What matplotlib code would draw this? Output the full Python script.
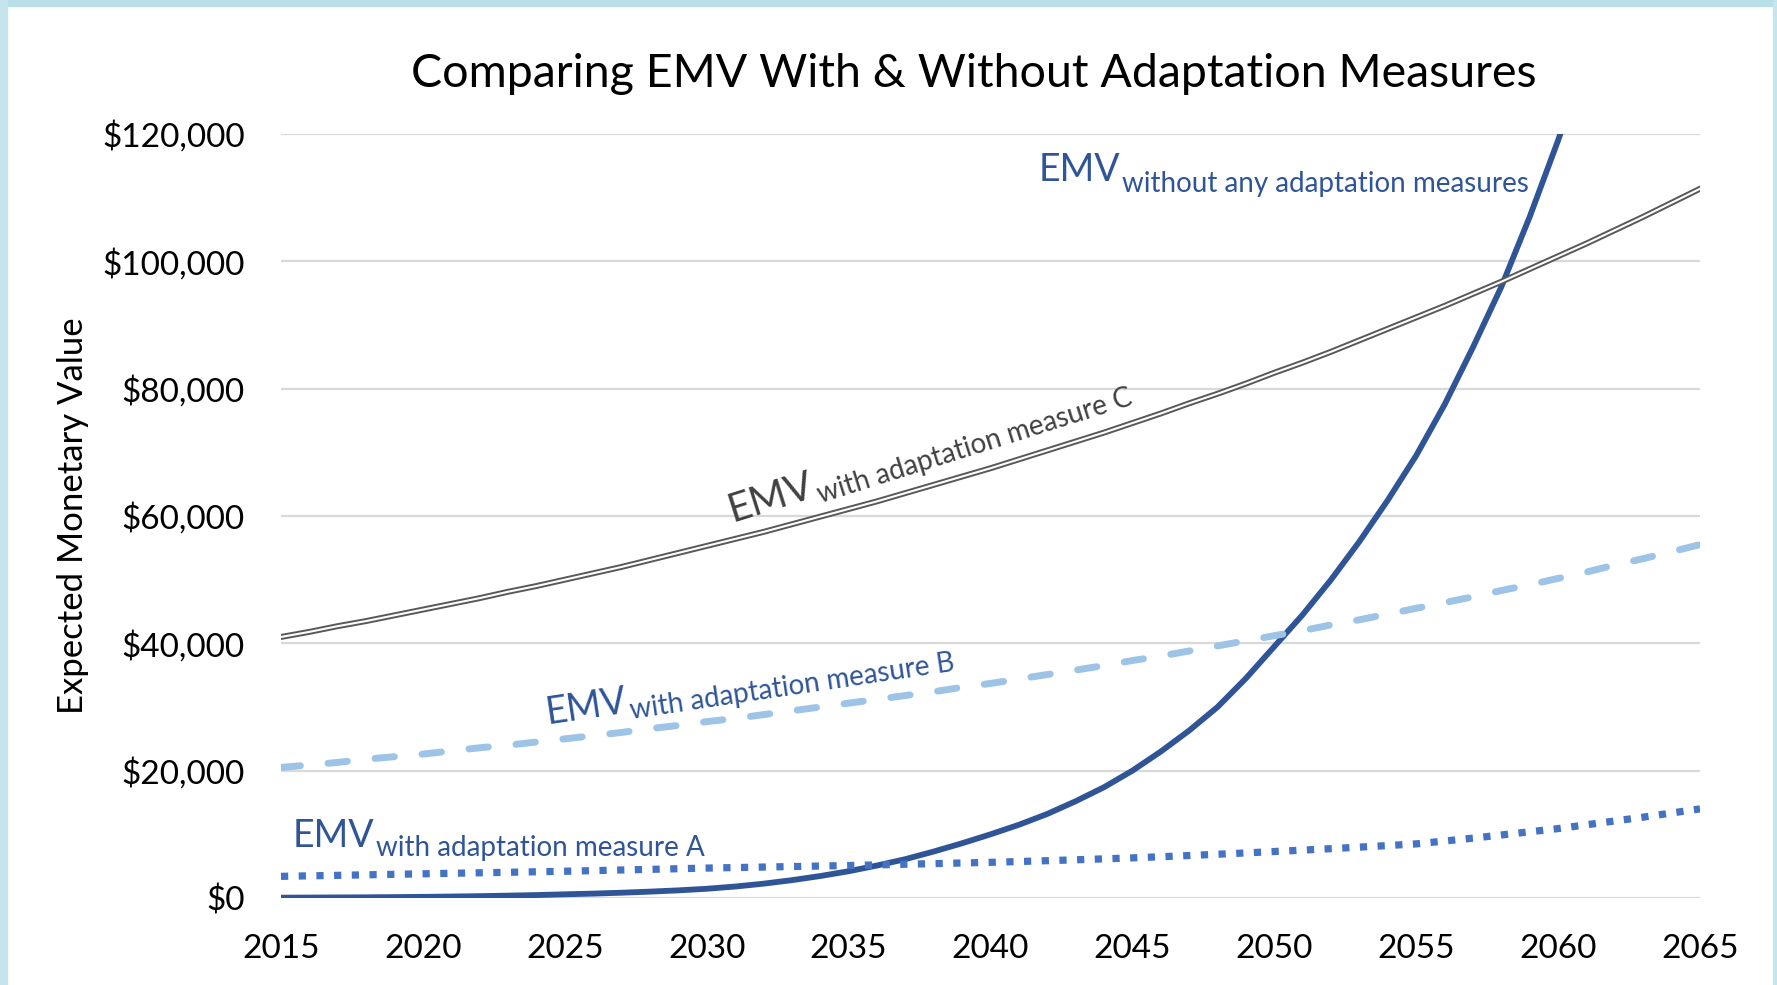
import numpy as np
import matplotlib
matplotlib.use("Agg")
import matplotlib.pyplot as plt
from matplotlib.ticker import FuncFormatter
from matplotlib.patches import Rectangle

plt.rcParams['font.family'] = ['Lato', 'DejaVu Sans']

years = list(range(2015, 2066))

# EMV without any adaptation measures (runs past the top)
emv_none = [50, 70, 90, 110, 140, 180, 230, 290, 370, 460,
            580, 690, 830, 1000, 1200, 1450, 1800, 2250, 2800, 3450,
            4200, 5100, 6100, 7300, 8600, 10000, 11500, 13200, 15200, 17400,
            20000, 23000, 26300, 30000, 34500, 39500, 44500, 50000, 56000, 62500,
            69500, 77500, 86500, 96000, 107000, 119000, 132000, 146000, 162000, 179000,
            198000]

emv_a = [3400, 3480, 3560, 3640, 3720, 3800, 3880, 3960, 4040, 4120,
         4200, 4300, 4400, 4500, 4600, 4700, 4780, 4860, 4940, 5020,
         5100, 5200, 5300, 5400, 5500, 5600, 5730, 5860, 6000, 6150,
         6300, 6480, 6670, 6870, 7080, 7300, 7520, 7750, 7990, 8240,
         8500, 8950, 9400, 9900, 10400, 10900, 11500, 12100, 12700, 13350,
         14000]

emv_b = [20500, 20900, 21300, 21800, 22200, 22600, 23100, 23600, 24000, 24500,
         25000, 25500, 26000, 26600, 27100, 27700, 28200, 28800, 29400, 30000,
         30600, 31200, 31800, 32400, 33100, 33700, 34400, 35100, 35800, 36500,
         37300, 38000, 38800, 39600, 40400, 41200, 42000, 42900, 43700, 44600,
         45500, 46400, 47300, 48300, 49200, 50200, 51200, 52300, 53300, 54400,
         55500]

emv_c = [41000, 41800, 42700, 43500, 44400, 45300, 46200, 47100, 48100, 49000,
         50000, 51000, 52000, 53100, 54200, 55300, 56400, 57500, 58700, 59900,
         61100, 62300, 63600, 64900, 66200, 67500, 68900, 70300, 71700, 73100,
         74600, 76100, 77700, 79200, 80800, 82500, 84100, 85800, 87600, 89400,
         91200, 93000, 94900, 96800, 98800, 100800, 102800, 104900, 107000, 109200,
         111400]

x_ticks = list(range(2015, 2066, 5))
y_ticks = list(range(0, 120001, 20000))

DARK = '#2F5597'
MID = '#4472C4'
LIGHT = '#9DC3E6'
GREY = '#595959'

DPI = 100
fig = plt.figure(figsize=(17.77, 9.85), dpi=DPI)
fig.patch.set_facecolor('white')

# light blue frame like the slide background
fig.patches.append(Rectangle((0, 1 - 6 / 985), 1, 6 / 985, transform=fig.transFigure,
                             color='#B8DEE7', zorder=0))
fig.patches.append(Rectangle((0, 0), 7 / 1777, 1, transform=fig.transFigure,
                             color='#C6E4EC', zorder=0))
fig.patches.append(Rectangle((1 - 4 / 1777, 0), 4 / 1777, 1, transform=fig.transFigure,
                             color='#C6E4EC', zorder=0))

ax = fig.add_axes([281 / 1777, 87 / 985, 1419 / 1777, 764 / 985])

ax.plot(years, emv_none, color=DARK, lw=4.2, solid_capstyle='butt', zorder=3)
ax.plot(years, emv_a, color=MID, lw=5.2, linestyle=(0, (1.0, 1.45)),
        dash_capstyle='butt', zorder=4)
ax.plot(years, emv_b, color=LIGHT, lw=5.0, linestyle=(0, (2.8, 4.0)),
        dash_capstyle='round', zorder=5)
ax.plot(years, emv_c, color=GREY, lw=4.3, zorder=6)
ax.plot(years, emv_c, color='white', lw=1.5, zorder=7)

ax.set_xlim(2015, 2065)
ax.set_ylim(0, 120000)
ax.set_xticks(x_ticks)
ax.set_yticks(y_ticks)
ax.yaxis.set_major_formatter(FuncFormatter(lambda v, p: '${:,.0f}'.format(v)))
ax.tick_params(length=0, labelsize=24, colors='black')
ax.tick_params(axis='y', pad=26)
ax.tick_params(axis='x', pad=26)
ax.grid(axis='y', color='#D9D9D9', lw=1.6)
ax.set_axisbelow(True)
for s in ax.spines.values():
    s.set_visible(False)

ax.set_ylabel('Expected Monetary Value', fontsize=25, labelpad=18)
ax.yaxis.set_label_coords(-192 / 1419, 0.5)

fig.text(974 / 1777, 1 - 74 / 985, 'Comparing EMV With & Without Adaptation Measures',
         fontsize=33.5, ha='center', va='center')


def emv_label(x, y, sub, color, angle, big=27, small=20, drop=10):
    t = ax.text(x, y, 'EMV', fontsize=big, color=color, rotation=angle,
                rotation_mode='anchor', ha='left', va='baseline', zorder=8)
    probe = fig.text(0, 0, 'EMV', fontsize=big)
    fig.canvas.draw()
    w = probe.get_window_extent().width + 2
    probe.remove()
    a = np.radians(angle)
    dx = w * np.cos(a) + drop * np.sin(a)
    dy = w * np.sin(a) - drop * np.cos(a)
    ax.annotate(sub, xy=(x, y), xytext=(dx * 72 / DPI, dy * 72 / DPI),
                textcoords='offset points', fontsize=small, color=color,
                rotation=angle, rotation_mode='anchor', ha='left', va='baseline',
                zorder=8)
    return t


emv_label(2041.7, 112600, 'without any adaptation measures', DARK, 0, drop=11)
emv_label(2030.9, 59000, 'with adaptation measure C', '#404040', 17.5,
          big=29, small=20, drop=8)
emv_label(2024.4, 27400, 'with adaptation measure B', DARK, 8.5, drop=8)
emv_label(2015.4, 8000, 'with adaptation measure A', DARK, 0, drop=9)

fig.savefig('out.png', dpi=DPI)
